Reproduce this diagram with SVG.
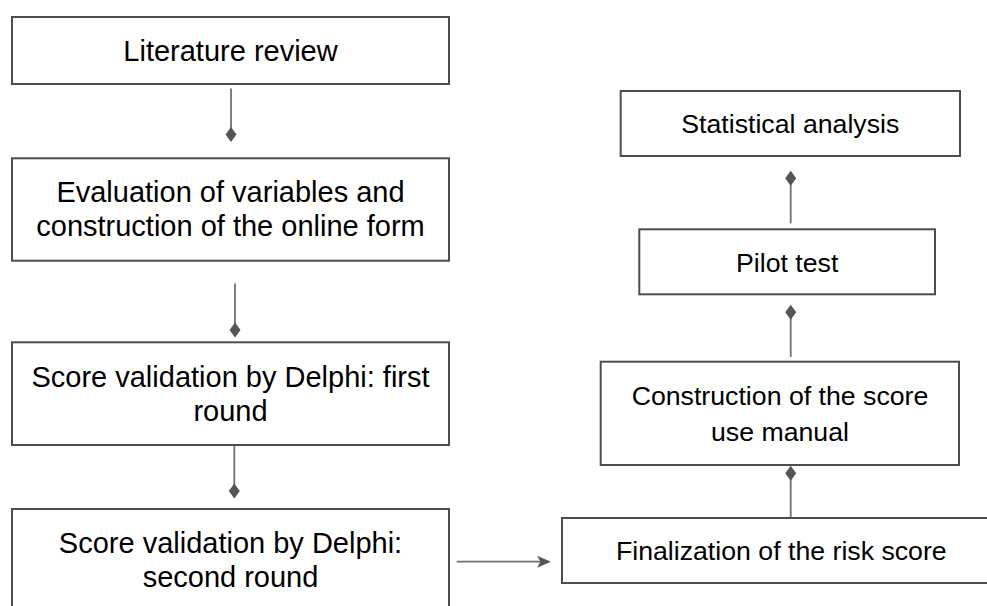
<svg xmlns="http://www.w3.org/2000/svg" xmlns:xlink="http://www.w3.org/1999/xlink" width="987" height="606" viewBox="0 0 987 606">
<style>
.box{fill:#ffffff;stroke:#4d4d4d;stroke-width:2}
.t{font-family:"Liberation Sans",Arial,sans-serif;fill:#000;text-anchor:middle}
.L{font-size:29px}
.R{font-size:26.7px}
.conn{stroke:#717171;stroke-width:1.8;fill:none}
.head{fill:#555555;stroke:none}
</style>
<defs>
<path id="dia" d="M0,-7.5 L5.5,0 L0,7.5 L-5.5,0 Z"/>
</defs>
<rect width="987" height="606" fill="#ffffff"/>
<g id="connectors">
<line class="conn" x1="231" y1="88.5" x2="231" y2="130"/>
<use href="#dia" x="231" y="134.5" class="head"/>
<line class="conn" x1="235" y1="283.5" x2="235" y2="326"/>
<use href="#dia" x="235" y="330" class="head"/>
<line class="conn" x1="234.3" y1="445" x2="234.3" y2="487"/>
<use href="#dia" x="234.3" y="491" class="head"/>
<line class="conn" x1="456.7" y1="561.7" x2="542" y2="561.7"/>
<path class="head" d="M551,561.7 L537,555.7 L540.5,561.7 L537,567.7 Z"/>
<line class="conn" x1="790.7" y1="518" x2="790.7" y2="477"/>
<use href="#dia" x="790.7" y="473.3" class="head"/>
<line class="conn" x1="790.7" y1="357" x2="790.7" y2="316"/>
<use href="#dia" x="790.7" y="312.3" class="head"/>
<line class="conn" x1="790.7" y1="223.3" x2="790.7" y2="182"/>
<use href="#dia" x="790.7" y="178.3" class="head"/>
</g>
<g id="n-literature">
<rect class="box" x="12" y="17" width="437" height="67"/>
<text class="t L" x="230.5" y="61">Literature review</text>
</g>
<g id="n-evaluation">
<rect class="box" x="12" y="158.3" width="437" height="102.4"/>
<text class="t L" x="230.5" y="202.3">Evaluation of variables and</text>
<text class="t L" x="230.5" y="236">construction of the online form</text>
</g>
<g id="n-delphi1">
<rect class="box" x="12" y="342.3" width="437" height="102.7"/>
<text class="t L" x="230.5" y="387.3">Score validation by Delphi: first</text>
<text class="t L" x="230.5" y="421">round</text>
</g>
<g id="n-delphi2">
<rect class="box" x="12" y="509" width="437" height="103"/>
<text class="t L" x="230.5" y="553.3">Score validation by Delphi:</text>
<text class="t L" x="230.5" y="586.7">second round</text>
</g>
<g id="n-finalization">
<rect class="box" x="562" y="518" width="439" height="65"/>
<text class="t R" x="781.3" y="560">Finalization of the risk score</text>
</g>
<g id="n-manual">
<rect class="box" x="600.7" y="361.7" width="358.3" height="103.3"/>
<text class="t R" x="780" y="405">Construction of the score</text>
<text class="t R" x="780" y="441">use manual</text>
</g>
<g id="n-pilot">
<rect class="box" x="639.3" y="229.3" width="295.7" height="65"/>
<text class="t R" x="787.2" y="271.7">Pilot test</text>
</g>
<g id="n-statistical">
<rect class="box" x="620.7" y="91" width="339.3" height="65"/>
<text class="t R" x="790.3" y="132.7">Statistical analysis</text>
</g>
</svg>
